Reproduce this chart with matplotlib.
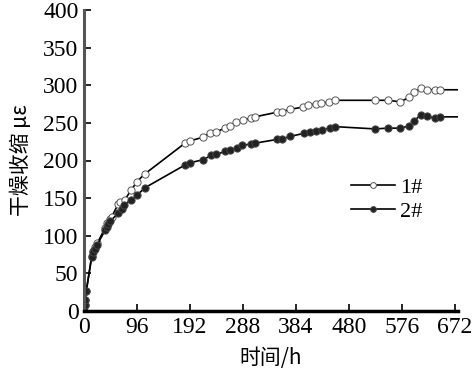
import matplotlib
matplotlib.use('Agg')
import matplotlib.pyplot as plt

# time (h) and shrinkage (με) for the two specimens
t1 = [0, 1, 2, 4, 14, 17, 20, 24, 38, 41, 47, 50, 62, 65, 74, 86, 96, 110,
      183, 192, 216, 228, 240, 255, 264, 276, 288, 302, 310, 349, 359, 374,
      397, 406, 421, 430, 445, 455, 527, 551, 573, 590, 599, 611, 622, 636, 645, 678]
s1 = [0, 8, 15, 26, 73, 80, 85, 90, 110, 117, 122, 125, 142, 145, 148, 161, 172, 182,
      223, 226, 231, 237, 238, 243, 246, 251, 254, 256, 258, 264, 265, 268,
      271, 274, 275, 276, 278, 280, 280, 280, 278, 284, 291, 296, 294, 294, 294, 294]

t2 = [0, 1, 2, 4, 14, 17, 20, 24, 38, 41, 44, 47, 62, 68, 73, 86, 96, 111,
      183, 192, 216, 231, 240, 255, 264, 277, 287, 302, 310, 350, 359, 374,
      398, 409, 421, 432, 446, 455, 527, 551, 573, 590, 599, 611, 622, 637, 646, 678]
s2 = [0, 8, 15, 26, 72, 79, 83, 88, 107, 112, 115, 119, 130, 136, 141, 148, 154, 164,
      194, 197, 201, 207, 208, 212, 214, 217, 220, 222, 223, 228, 229, 232,
      236, 238, 239, 241, 243, 245, 242, 243, 243, 246, 253, 261, 259, 256, 258, 258]

xticks = [0, 96, 192, 288, 384, 480, 576, 672]
yticks = [0, 50, 100, 150, 200, 250, 300, 350, 400]

serif = ['Liberation Serif', 'DejaVu Serif']
cjk = ['Noto Sans CJK SC', 'Liberation Serif', 'DejaVu Sans']

fig = plt.figure(figsize=(4.77, 3.76), dpi=100)
ax = fig.add_axes([84 / 477, 65 / 376, 374 / 477, 301 / 376])

# last point only carries the flat line to the axis end, no marker
marks = list(range(len(t1) - 1))
ax.plot(t1, s1, color='black', lw=1.2, marker='o', ms=5.2, mfc='white',
        mec='#555555', mew=0.7, markevery=marks, label='1#')
ax.plot(t2, s2, color='black', lw=1.2, marker='o', ms=5.2, mfc='#222222',
        mec='#444444', mew=0.7, markevery=marks, label='2#')

ax.set_xlim(0, 678)
ax.set_ylim(0, 400)
ax.set_xticks(xticks)
ax.set_yticks(yticks)
ax.tick_params(direction='in', length=5, width=1.2, labelsize=17, pad=4)
for lab in ax.get_xticklabels() + ax.get_yticklabels():
    lab.set_family(serif)

ax.spines['top'].set_visible(False)
ax.spines['right'].set_visible(False)
ax.spines['left'].set_color('#555555')
ax.spines['left'].set_linewidth(2.2)
ax.spines['bottom'].set_color('black')
ax.spines['bottom'].set_linewidth(2.5)

ax.set_xlabel('时间/h', family=cjk, fontsize=15, labelpad=7)
ax.set_ylabel('干燥收缩 με', family=cjk, fontsize=15, labelpad=8)

leg = ax.legend(loc='upper left', bbox_to_anchor=(0.66, 0.51), frameon=False,
                prop={'family': serif, 'size': 16}, handlelength=2.0,
                handletextpad=0.2, labelspacing=0.15, markerscale=0.8)

fig.savefig('out.png', dpi=100)
